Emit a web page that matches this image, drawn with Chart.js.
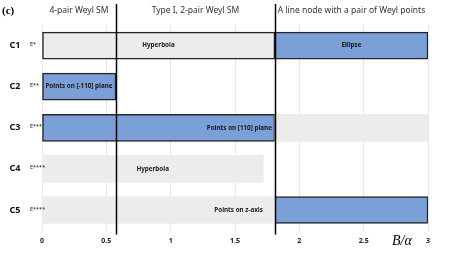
<!DOCTYPE html>
<html lang="en">
<head>
    <meta charset="UTF-8">
    <title>Weyl point phases vs B/alpha</title>
    <style>
        body {
            margin: 0;
            padding: 0;
            background-color: #ffffff;
        }
        .chart-container {
            position: relative;
            width: 449px;
            height: 253px;
        }
    </style>
    <script src="https://cdn.jsdelivr.net/npm/chart.js"></script>
</head>
<body>
    <div class="chart-container">
        <canvas id="phaseChart"></canvas>
    </div>

    <script>
        // data
        const categories = ['C1', 'C2', 'C3', 'C4', 'C5'];
        const energyLabels = ['E*', 'E**', 'E***', 'E****', 'E****'];
        const graySpans = [[0, 1.81], null, [1.81, 3], [0, 1.72], [0, 1.81]];
        const blueSpans = [[1.81, 3], [0, 0.575], [0, 1.81], null, [1.81, 3]];
        const grayText = ['Hyperbola', null, null, 'Hyperbola', 'Points on z-axis'];
        const blueText = ['Ellipse', 'Points on [-110] plane', 'Points on [110] plane', null, null];
        const phaseBounds = [0.575, 1.81];
        const phaseNames = ['4-pair Weyl SM', 'Type I, 2-pair Weyl SM', 'A line node with a pair of Weyl points'];
        const xTicks = [0, 0.5, 1, 1.5, 2, 2.5, 3];

        const BLUE = '#7b9fd7';
        const GRAY = '#ececec';
        const EDGE = '#262626';

        // text inside bars: 'c' = centred, 'e' = pushed to the right end
        const grayAlign = ['c', null, null, 'c', 'e'];
        const blueAlign = ['c', 'c', 'e', null, null];
        const endPad = [0, 0, 3, 0, 12];

        const decorPlugin = {
            id: 'decor',
            afterDatasetsDraw(chart) {
                const ctx = chart.ctx;
                const x = chart.scales.x;
                const y = chart.scales.y;
                const area = chart.chartArea;
                ctx.save();

                // labels inside bars
                ctx.fillStyle = '#1a1a1a';
                ctx.font = 'bold 6.3px "Noto Sans", sans-serif';
                ctx.textBaseline = 'middle';
                [[graySpans, grayText, grayAlign], [blueSpans, blueText, blueAlign]].forEach(([spans, texts, aligns]) => {
                    categories.forEach((c, i) => {
                        if (!texts[i]) return;
                        const yc = y.getPixelForValue(i);
                        const x0 = x.getPixelForValue(spans[i][0]);
                        const x1 = x.getPixelForValue(spans[i][1]);
                        if (aligns[i] === 'e') {
                            ctx.textAlign = 'right';
                            ctx.fillText(texts[i], x1 - endPad[i], yc);
                        } else {
                            ctx.textAlign = 'center';
                            ctx.fillText(texts[i], (x0 + x1) / 2, yc);
                        }
                    });
                });

                // row labels
                categories.forEach((c, i) => {
                    const yc = y.getPixelForValue(i);
                    ctx.font = 'bold 9px "Noto Sans", sans-serif';
                    ctx.fillStyle = '#111';
                    ctx.textAlign = 'center';
                    ctx.fillText(c, 15, yc);
                    ctx.font = '5.5px "Noto Sans", sans-serif';
                    ctx.textAlign = 'left';
                    ctx.fillText(energyLabels[i], 30, yc - 1);
                });

                // phase boundaries
                ctx.strokeStyle = '#000';
                ctx.lineWidth = 1.5;
                phaseBounds.forEach(b => {
                    const px = Math.round(x.getPixelForValue(b)) + 0.5;
                    ctx.beginPath();
                    ctx.moveTo(px, 4);
                    ctx.lineTo(px, area.bottom + 4);
                    ctx.stroke();
                });

                // phase names
                ctx.font = '8.5px "Noto Sans", sans-serif';
                ctx.fillStyle = '#333';
                ctx.textAlign = 'center';
                const edges = [x.min].concat(phaseBounds, [x.max]);
                phaseNames.forEach((name, i) => {
                    const cx = (x.getPixelForValue(edges[i]) + x.getPixelForValue(edges[i + 1])) / 2;
                    ctx.fillText(name, cx, 11);
                });

                // panel tag and axis title
                ctx.fillStyle = '#000';
                ctx.textAlign = 'left';
                ctx.font = 'bold 11px "Liberation Serif", serif';
                ctx.fillText('(c)', 2, 11);
                ctx.font = 'italic 14px "Liberation Serif", serif';
                ctx.fillText('B/α', 392, 241);
                ctx.restore();
            }
        };

        const ctx = document.getElementById('phaseChart').getContext('2d');
        const phaseChart = new Chart(ctx, {
            type: 'bar',
            data: {
                labels: categories,
                datasets: [{
                    label: 'gray',
                    data: graySpans,
                    backgroundColor: GRAY,
                    borderColor: EDGE,
                    borderWidth: [1.5, 0, 0, 0, 0],
                    borderSkipped: false,
                    grouped: false,
                    barThickness: 27
                }, {
                    label: 'blue',
                    data: blueSpans,
                    backgroundColor: BLUE,
                    borderColor: EDGE,
                    borderWidth: 1.5,
                    borderSkipped: false,
                    grouped: false,
                    barThickness: 27
                }]
            },
            options: {
                indexAxis: 'y',
                responsive: true,
                maintainAspectRatio: false,
                animation: false,
                layout: {
                    padding: { left: 42, right: 21, top: 25, bottom: 2 }
                },
                scales: {
                    x: {
                        type: 'linear',
                        min: 0,
                        max: 3,
                        afterBuildTicks: axis => {
                            axis.ticks = xTicks.map(v => ({ value: v }));
                        },
                        grid: {
                            color: '#e6e6e6',
                            drawTicks: false
                        },
                        border: { display: false },
                        ticks: {
                            padding: 6,
                            color: '#222',
                            callback: v => String(v),
                            font: { size: 7, weight: 'bold', family: '"Noto Sans", sans-serif' }
                        }
                    },
                    y: {
                        display: false
                    }
                },
                plugins: {
                    legend: { display: false },
                    tooltip: { enabled: false }
                }
            },
            plugins: [decorPlugin]
        });
    </script>
</body>
</html>
